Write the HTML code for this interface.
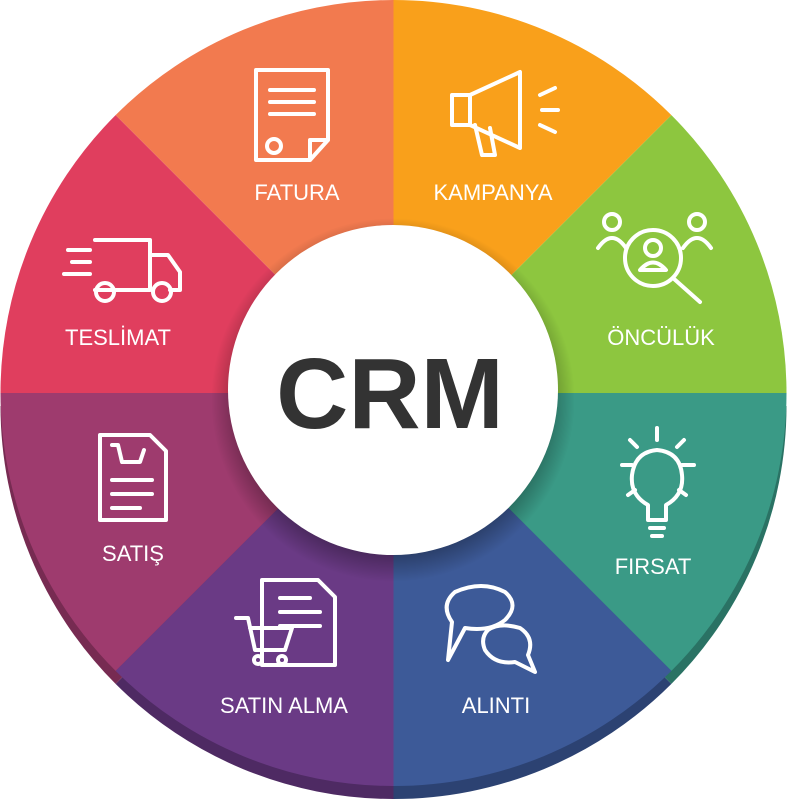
<!DOCTYPE html>
<html><head><meta charset="utf-8"><style>
html,body{margin:0;padding:0;background:#fff;width:787px;height:800px;overflow:hidden}
text{font-family:"Liberation Sans",sans-serif}
</style></head><body>
<svg width="787" height="800" viewBox="0 0 787 800" xmlns="http://www.w3.org/2000/svg">
<defs>
<radialGradient id="sh" cx="50%" cy="50%" r="50%">
<stop offset="0.85" stop-color="#000" stop-opacity="0.3"/>
<stop offset="1" stop-color="#000" stop-opacity="0"/>
</radialGradient>
</defs>
<g transform="translate(0,13)">
<path d="M393.5,393 L393.5,786 A393,393 0 0 1 115.6,670.9Z" fill="#4e2a63"/>
<path d="M393.5,393 L671.4,670.9 A393,393 0 0 1 393.5,786Z" fill="#2c4272"/>
<path d="M393.5,393 L115.6,670.9 A393,393 0 0 1 0.5,393Z" fill="#772b52"/>
<path d="M393.5,393 L786.5,393 A393,393 0 0 1 671.4,670.9Z" fill="#2a7264"/>
</g>
<path d="M393.5,393 L115.6,115.1 A393,393 0 0 1 393.5,0Z" fill="#F27A4F"/>
<path d="M393.5,393 L393.5,0 A393,393 0 0 1 671.4,115.1Z" fill="#F9A01B"/>
<path d="M393.5,393 L671.4,115.1 A393,393 0 0 1 786.5,393Z" fill="#8DC63F"/>
<path d="M393.5,393 L786.5,393 A393,393 0 0 1 671.4,670.9Z" fill="#3A9A86"/>
<path d="M393.5,393 L671.4,670.9 A393,393 0 0 1 393.5,786Z" fill="#3D5A98"/>
<path d="M393.5,393 L393.5,786 A393,393 0 0 1 115.6,670.9Z" fill="#6A3A85"/>
<path d="M393.5,393 L115.6,670.9 A393,393 0 0 1 0.5,393Z" fill="#9E3B6E"/>
<path d="M393.5,393 L0.5,393 A393,393 0 0 1 115.6,115.1Z" fill="#E03E5E"/>
<circle cx="393" cy="400" r="182" fill="url(#sh)"/>
<circle cx="393" cy="390" r="165" fill="#fff"/>
<text x="390" y="428" font-size="100" font-weight="bold" fill="#333" text-anchor="middle">CRM</text>
<g fill="#fff" font-size="22" text-anchor="middle">
<text x="297" y="200">FATURA</text>
<text x="493" y="200">KAMPANYA</text>
<text x="661" y="345">ÖNCÜLÜK</text>
<text x="653" y="574">FIRSAT</text>
<text x="496" y="713">ALINTI</text>
<text x="284" y="713">SATIN ALMA</text>
<text x="133" y="561">SATIŞ</text>
<text x="118" y="345">TESLİMAT</text>
</g>
<g fill="none" stroke="#fff" stroke-width="4" stroke-linecap="round" stroke-linejoin="round">
<path d="M256,70 H328 V140 L310,160 H256Z M310,160 V140 H328"/>
<path d="M270,90 H314 M270,102 H314 M270,114 H314"/><circle cx="274" cy="146" r="7"/>
<path d="M452,95 H470 V125 H452Z M470,95 L520,72 V148 L470,125 M475,125 L482,155 H495 L490,128"/>
<path d="M540,95 L555,88 M542,110 H558 M540,125 L555,132"/>
<circle cx="653" cy="258" r="28"/><circle cx="653" cy="248" r="8"/><path d="M640,270 Q653,255 666,270Z M673,278 L700,302"/>
<circle cx="612" cy="222" r="8"/><circle cx="697" cy="222" r="8"/><path d="M598,248 Q612,228 626,248 M683,248 Q697,228 711,248"/>
<path d="M648,505 Q630,495 632,475 Q635,452 657,450 Q680,452 682,475 Q684,495 666,505 V520 H648Z M650,528 H664 M652,536 H662"/>
<path d="M657,428 V440 M622,465 H632 M682,465 H694 M630,440 L637,447 M684,440 L677,447 M628,495 L635,490 M686,495 L679,490"/>
<path d="M455,592 Q482,580 505,592 Q520,605 505,620 Q490,632 465,628 L448,660 L452,622 Q440,605 455,592Z"/>
<path d="M488,630 Q500,622 520,628 Q535,638 528,655 L535,672 L515,662 Q495,665 485,650 Q480,638 488,630Z"/>
<path d="M262,580 H318 L335,597 V665 H262Z M280,598 H310 M280,612 H320 M280,626 H320"/>
<path d="M236,618 H248 L255,650 H285 L292,628 H250"/><circle cx="258" cy="660" r="4"/><circle cx="282" cy="660" r="4"/>
<path d="M100,435 H150 L166,451 V520 H100Z M112,480 H152 M112,494 H152 M112,508 H140"/>
<path d="M112,445 H118 L122,462 H140 L144,450"/>
<path d="M95,240 H150 V290 H95 M150,255 H168 L180,272 V290 H170 M68,250 H90 M72,262 H90 M64,274 H90"/>
<circle cx="105" cy="292" r="9"/><circle cx="162" cy="292" r="9"/>
</g>
</svg>
</body></html>
